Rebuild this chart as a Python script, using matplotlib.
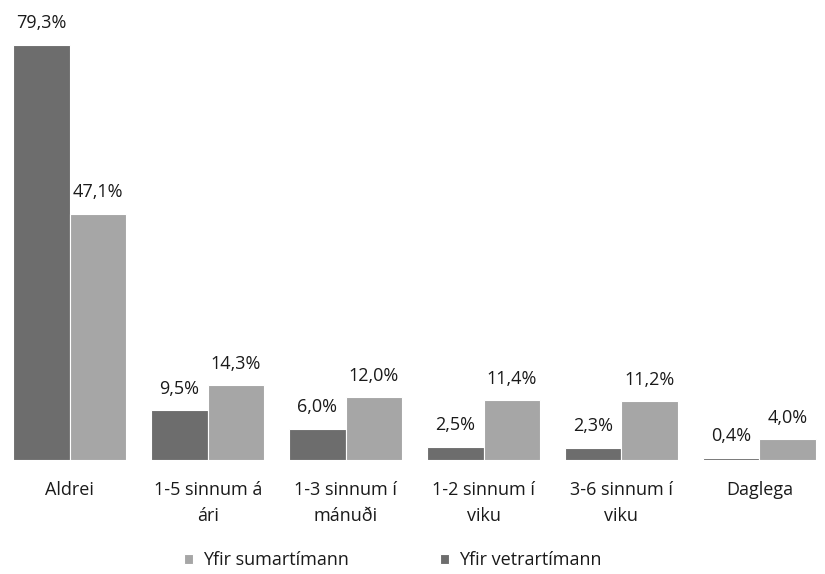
import numpy as np
import matplotlib.pyplot as plt

categories = ['Aldrei', '1-5 sinnum á\nári', '1-3 sinnum í\nmánuði',
              '1-2 sinnum í\nviku', '3-6 sinnum í\nviku', 'Daglega']
vetur = [79.3, 9.5, 6.0, 2.5, 2.3, 0.4]
sumar = [47.1, 14.3, 12.0, 11.4, 11.2, 4.0]

plt.rcParams['font.family'] = ['Open Sans', 'DejaVu Sans']
txt = '#1a1a1a'

fig = plt.figure(figsize=(8.25, 5.74), dpi=100)
ax = fig.add_axes([0.001, 0.1986, 1.003, 0.775])

x = np.arange(len(categories))
w = 0.41
b1 = ax.bar(x - w / 2, vetur, w, color='#6d6d6d', edgecolor='white', linewidth=0.8,
            label='Yfir vetrartímann')
b2 = ax.bar(x + w / 2, sumar, w, color='#a6a6a6', edgecolor='white', linewidth=0.8,
            label='Yfir sumartímann')

def fmt(v):
    return f'{v:.1f}'.replace('.', ',') + '%'

for bars, vals in [(b1, vetur), (b2, sumar)]:
    for r, v in zip(bars, vals):
        ax.annotate(fmt(v), (r.get_x() + r.get_width() / 2, v), xytext=(0, 9),
                    textcoords='offset points', ha='center', va='bottom',
                    fontsize=13, color=txt)

ax.set_xlim(-0.5, 5.5)
ax.set_ylim(0, 85)
ax.set_xticks(x)
ax.set_xticklabels(categories, fontsize=13, color=txt, linespacing=1.6)
ax.tick_params(axis='x', length=0, pad=15)
ax.set_yticks([])
for s in ax.spines.values():
    s.set_visible(False)

handles = [b2, b1]
fig.legend(handles, [h.get_label() for h in handles], loc='center',
           bbox_to_anchor=(0.476, 0.024), ncol=2, frameon=False, fontsize=13,
           handlelength=0.5, handleheight=0.5, columnspacing=5.0, handletextpad=0.6,
           labelcolor=txt)

plt.savefig('out.png', dpi=100)
